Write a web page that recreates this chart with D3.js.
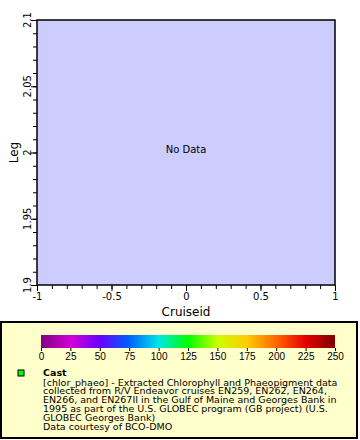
<!DOCTYPE html>
<html><head><meta charset="utf-8">
<script src="https://cdn.jsdelivr.net/npm/d3@7"></script>
<style>body{margin:0;background:#fff}svg{display:block;font-family:"DejaVu Sans",sans-serif}</style>
</head><body><svg id="c" width="360" height="440"></svg>
<script>
const xDomain = [-1, 1];
const yDomain = [1.9, 2.1];
const xTicks = [-1, -0.5, 0, 0.5, 1];
const yTicks = [1.9, 1.95, 2, 2.05, 2.1];
const cbTicks = [0, 25, 50, 75, 100, 125, 150, 175, 200, 225, 250];
const cbStops = [0, 25, 50, 75, 100, 125, 150, 175, 200, 225, 250];
const cbColors = ["#800080","#d400d4","#6a00ff","#0060ff","#00e6e6","#00ff00","#ccff00","#ffcc00","#ff6600","#e60000","#800000"];
const legendLines = [
 "[chlor_phaeo] - Extracted Chlorophyll and Phaeopigment data",
 "collected from R/V Endeavor cruises EN259, EN262, EN264,",
 "EN266, and EN267II in the Gulf of Maine and Georges Bank in",
 "1995 as part of the U.S. GLOBEC program (GB project) (U.S.",
 "GLOBEC Georges Bank)",
 "Data courtesy of BCO-DMO"
];

const fmt = d => String(d);
const svg = d3.select("#c");
const L=37,R=335,T=20,B=285;
const x = d3.scaleLinear().domain(xDomain).range([L,R]);
const y = d3.scaleLinear().domain(yDomain).range([B,T]);

svg.append("rect").attr("x",L).attr("y",T).attr("width",R-L).attr("height",B-T).attr("fill","#ccccff");

// x axis
const gx = svg.append("g").attr("transform",`translate(0,${B})`);
gx.call(d3.axisBottom(x).tickValues(d3.range(0,21).map(i=>-1+i*0.1)).tickSize(4).tickFormat(""));
gx.select(".domain").remove();
const gx2 = svg.append("g").attr("transform",`translate(0,${B})`);
gx2.call(d3.axisBottom(x).tickValues(xTicks).tickSize(6).tickFormat(fmt));
gx2.select(".domain").remove();
gx2.selectAll("text").attr("font-size",10).attr("fill","#000").attr("font-family","DejaVu Sans").attr("dy",null).attr("y",15);

// y axis
const gy = svg.append("g").attr("transform",`translate(${L},0)`);
gy.call(d3.axisLeft(y).tickValues(d3.range(0,21).map(i=>1.9+i*0.01)).tickSize(4).tickFormat(""));
gy.select(".domain").remove();
const gy2 = svg.append("g").attr("transform",`translate(${L},0)`);
gy2.call(d3.axisLeft(y).tickValues(yTicks).tickSize(6).tickFormat(""));
gy2.select(".domain").remove();
svg.append("g").selectAll("text").data(yTicks).join("text")
  .attr("transform",d=>`translate(31,${y(d)}) rotate(-90)`)
  .attr("text-anchor","middle").attr("font-size",10).text(fmt);

// frame
svg.append("path").attr("d",`M${L},${T}H${R}V${B}H${L}Z`).attr("fill","none").attr("stroke","#000").attr("stroke-width",1.5);

svg.append("text").attr("x",(L+R)/2).attr("y",153).attr("text-anchor","middle").attr("font-size",10).text("No Data");
svg.append("text").attr("x",(L+R)/2).attr("y",316).attr("text-anchor","middle").attr("font-size",12).text("Cruiseid");
svg.append("text").attr("transform",`translate(18,${(T+B)/2}) rotate(-90)`).attr("text-anchor","middle").attr("font-size",12).text("Leg");

// legend box
svg.append("rect").attr("x",1).attr("y",322).attr("width",356).attr("height",116).attr("fill","#ffffcc").attr("stroke","#000").attr("stroke-width",2);

// colorbar
const cb = d3.scaleLinear().domain([0,250]).range([41,335]);
const grad = svg.append("defs").append("linearGradient").attr("id","rb");
cbStops.forEach((s,i)=>grad.append("stop").attr("offset",s/250).attr("stop-color",cbColors[i]));
svg.append("rect").attr("x",41).attr("y",335).attr("width",294).attr("height",13).attr("fill","url(#rb)");
const gc = svg.append("g").attr("transform","translate(0,348)");
gc.call(d3.axisBottom(cb).tickValues(cbTicks).tickSize(3).tickFormat(fmt));
gc.select(".domain").remove();
gc.selectAll("text").attr("font-size",10).attr("fill","#000").attr("dy",null).attr("y",12);

// legend entry
svg.append("rect").attr("x",18).attr("y",370).attr("width",6).attr("height",6).attr("fill","#00ff00").attr("stroke","#000").attr("stroke-width",1);
svg.append("text").attr("x",43).attr("y",376).attr("font-size",9.5).attr("font-weight","bold").text("Cast");
svg.append("g").selectAll("text").data(legendLines).join("text")
  .attr("x",43).attr("y",(d,i)=>385.5+i*8.8).attr("font-size",9.5).text(d=>d);
</script></body></html>
